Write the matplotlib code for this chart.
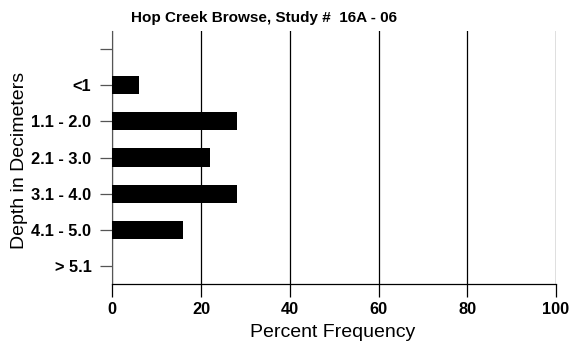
import matplotlib
matplotlib.use("Agg")
import matplotlib.pyplot as plt

# depth classes, top to bottom
depth_labels = ["", "<1", "1.1 - 2.0", "2.1 - 3.0", "3.1 - 4.0", "4.1 - 5.0", "> 5.1"]
percent = [0, 6, 28, 22, 28, 16, 0]

plt.rcParams['font.family'] = ['Liberation Sans', 'DejaVu Sans']

fig = plt.figure(figsize=(5.72, 3.44), dpi=100)
ax = fig.add_axes([0.1963, 0.1744, 0.7757, 0.7355])

pos = list(range(len(depth_labels)))
ax.barh(pos, percent, height=0.5, color='black', zorder=3)

ax.set_xlim(0, 100)
ax.set_ylim(len(depth_labels) - 0.5, -0.5)
ax.set_xticks([0, 20, 40, 60, 80, 100])
ax.set_yticks(pos)
ax.set_yticklabels(depth_labels, fontweight='bold', fontsize=11.8)
for t in ax.get_xticklabels():
    t.set_fontweight('bold')
    t.set_fontsize(11.8)

ax.grid(axis='x', color='black', linewidth=0.9, zorder=0)
for s in ['top', 'right']:
    ax.spines[s].set_visible(False)
ax.spines['left'].set_color('#555555')
ax.spines['bottom'].set_linewidth(0.9)
ax.tick_params(axis='x', length=9, width=0.9, pad=4)
ax.tick_params(axis='y', length=9, width=0.9, color='#555555', pad=6)

ax.set_xlabel("Percent Frequency", fontsize=14)
ax.xaxis.set_label_coords(0.496, -0.16)
ax.set_ylabel("Depth in Decimeters", fontsize=14)
ax.yaxis.set_label_coords(-0.189, 0.49)
fig.text(264 / 572, 1 - 18 / 344, "Hop Creek Browse, Study #  16A - 06",
         ha='center', va='center', fontsize=11, fontweight='bold')

fig.savefig("out.png", dpi=100)
